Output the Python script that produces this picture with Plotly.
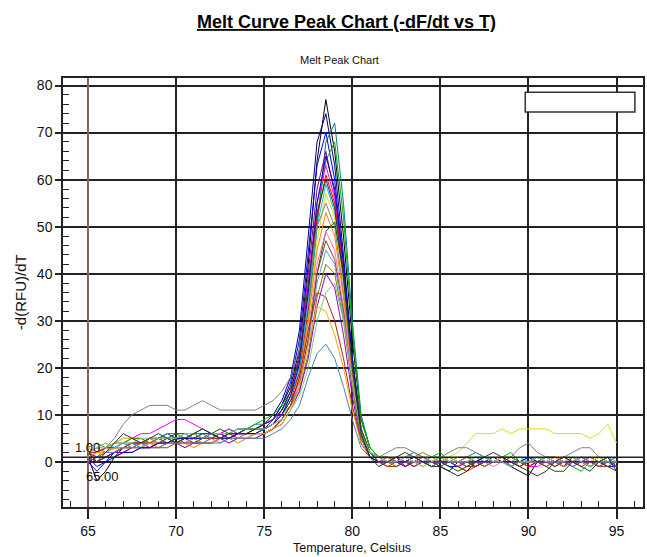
import plotly.graph_objects as go

temperature = [65.0, 65.5, 66.0, 66.5, 67.0, 67.5, 68.0, 68.5, 69.0, 69.5,
               70.0, 70.5, 71.0, 71.5, 72.0, 72.5, 73.0, 73.5, 74.0, 74.5,
               75.0, 75.5, 76.0, 76.5, 77.0, 77.5, 78.0, 78.5, 79.0, 79.5,
               80.0, 80.5, 81.0, 81.5, 82.0, 82.5, 83.0, 83.5, 84.0, 84.5,
               85.0, 85.5, 86.0, 86.5, 87.0, 87.5, 88.0, 88.5, 89.0, 89.5,
               90.0, 90.5, 91.0, 91.5, 92.0, 92.5, 93.0, 93.5, 94.0, 94.5, 95.0]

well_A = [1, -4, -2, 1, 3, 4, 4, 5, 5, 4, 5, 5, 6, 5, 6, 6, 6, 7, 7, 7,
          8, 9, 12, 16, 24, 42, 64, 77, 66, 48, 26, 9, 3,
          1, 0, 1, -1, 0, 1, 0, -1, -2, 0, 1, 0, -1, 0, 1, -1, -2, -3, 0, 1, 0, -1, 1, 0, -1, 0, 1, -1]
well_B = [2, 0, 1, 2, 3, 3, 4, 4, 5, 5, 4, 5, 5, 6, 6, 5, 6, 6, 7, 7,
          8, 10, 13, 18, 28, 48, 68, 74, 63, 44, 22, 7, 2,
          0, 1, 0, 0, 1, 0, -1, 0, 1, 0, 0, -1, 0, 1, 0, 0, -1, 0, 1, 0, -1, 0, 0, 1, 0, -1, 0, 0]
well_C = [1, 2, 3, 3, 4, 3, 4, 5, 4, 5, 5, 5, 6, 6, 5, 6, 7, 6, 7, 8,
          8, 9, 11, 14, 19, 30, 50, 68, 72, 55, 30, 10, 3,
          1, 1, 0, 1, 2, 1, 0, 1, 0, 0, 1, 2, 1, 0, 0, 1, 0, -1, 0, 1, 1, 0, 0, 1, 0, 0, -1, 0]
well_D = [0, -2, 0, 2, 3, 4, 3, 4, 5, 6, 5, 4, 5, 5, 6, 6, 5, 6, 6, 7,
          7, 9, 12, 17, 26, 45, 63, 70, 60, 42, 22, 7, 2,
          0, 0, -1, 0, 0, 1, 0, 0, -1, -1, 0, 0, 1, 0, 0, -1, 0, 0, 1, 0, 0, -1, 0, 0, 1, 0, -1, -1]
well_E = [2, 3, 2, 3, 4, 5, 5, 4, 5, 6, 6, 5, 6, 7, 6, 5, 6, 7, 7, 8,
          9, 10, 12, 15, 20, 32, 52, 64, 68, 52, 28, 9, 3,
          1, 0, 1, 0, -1, 0, 1, 2, 0, -1, -2, 0, 1, 0, 1, 2, 0, -1, 0, 1, 0, 0, -1, -2, 0, 1, 0, -1]
well_F = [1, 0, 1, 2, 2, 3, 4, 3, 4, 4, 5, 5, 4, 5, 5, 6, 5, 6, 6, 7,
          7, 8, 11, 15, 23, 40, 58, 66, 57, 40, 21, 7, 2,
          0, 0, 0, 1, 0, 0, 0, -1, 0, 0, 0, 1, 0, 0, 0, 0, -1, 0, 0, 0, 1, 0, 0, 0, -1, 0, 0, 0]
well_G = [3, 2, 3, 4, 5, 5, 6, 6, 7, 8, 9, 9, 8, 7, 6, 6, 7, 6, 7, 7,
          8, 9, 11, 15, 22, 38, 55, 63, 56, 40, 20, 6, 1,
          0, 0, 1, 0, -1, 0, 0, 1, 0, 0, -1, 0, 0, 0, 1, 0, 0, -1, -1, 0, 0, 1, 0, 0, 0, -1, 0, 0]
well_H = [2, 1, 2, 3, 3, 4, 4, 4, 5, 4, 4, 5, 5, 4, 5, 5, 6, 5, 6, 6,
          7, 8, 10, 13, 19, 33, 52, 61, 55, 40, 22, 7, 2,
          0, -1, 0, 0, 1, 0, -1, 0, 0, -1, -2, -1, 0, 0, 0, 1, 0, -1, 0, 0, 0, 1, 0, -1, 0, 0, 0, -1]
well_I = [2, 3, 4, 3, 4, 4, 3, 5, 4, 4, 5, 5, 5, 4, 5, 5, 5, 6, 6, 6,
          7, 8, 10, 14, 20, 34, 50, 59, 53, 38, 20, 6, 2,
          1, 0, 0, 1, 1, 0, 0, 0, 1, 0, -1, 0, 1, 0, 0, 0, 1, 0, 0, 1, 0, 0, 0, 1, 0, 0, 1, 0]
well_J = [3, 2, 3, 4, 5, 5, 4, 4, 3, 4, 4, 3, 4, 4, 4, 5, 4, 5, 5, 6,
          6, 7, 9, 12, 18, 30, 47, 57, 52, 38, 20, 7, 2,
          1, 1, 0, 1, 1, 0, 1, 1, 1, 2, 4, 6, 6, 6, 7, 6, 7, 7, 7, 7, 6, 6, 6, 6, 5, 6, 8, 4]
well_K = [2, 1, 3, 5, 8, 10, 11, 12, 12, 12, 11, 11, 12, 13, 12, 11, 11, 11, 11, 11,
          12, 13, 15, 18, 24, 36, 50, 55, 50, 36, 19, 6, 2,
          1, 2, 3, 3, 2, 1, 0, 1, 2, 3, 3, 2, 1, 0, 0, 1, 3, 4, 2, 1, 0, 1, 2, 3, 3, 1, 0, -1]
well_L = [1, 2, 2, 3, 3, 3, 4, 4, 3, 4, 4, 4, 3, 4, 4, 5, 5, 4, 5, 5,
          6, 7, 9, 12, 18, 30, 45, 53, 48, 35, 18, 5, 1,
          0, 0, -1, 0, 0, -1, 0, 0, 0, -1, 0, 0, -1, 0, 0, 0, -1, 0, 0, 0, 0, -1, 0, 0, -1, 0, 0, 0]
well_M = [2, 1, 1, 2, 3, 4, 4, 5, 5, 5, 6, 6, 5, 6, 6, 7, 6, 6, 7, 7,
          7, 8, 10, 13, 17, 26, 40, 49, 51, 40, 22, 7, 2,
          0, 1, 0, -1, 0, 1, 0, 0, -1, -2, -1, 0, 1, 0, 0, -1, 0, 1, 0, -1, -2, -2, 0, 1, 0, 0, -1, -2]
well_N = [2, 3, 2, 3, 3, 4, 4, 5, 4, 5, 5, 4, 5, 5, 5, 4, 5, 5, 6, 6,
          6, 7, 9, 12, 17, 28, 42, 49, 45, 33, 17, 5, 1,
          0, 1, 0, 0, 0, 1, 0, 0, 0, 0, 1, 0, 0, -1, 0, 0, 0, 0, 1, 0, 0, 0, 0, 1, 0, 0, 0, 0]
well_O = [1, 0, 1, 1, 2, 2, 3, 3, 3, 3, 4, 4, 4, 4, 4, 5, 5, 5, 5, 6,
          6, 7, 9, 12, 16, 26, 40, 47, 43, 32, 16, 5, 1,
          0, -1, -1, 0, 0, 0, -1, 0, 0, 0, -1, -1, 0, 0, 0, 0, -1, 0, 0, 0, -1, 0, 0, 0, 0, -1, -1, 0]
well_P = [2, 2, 3, 3, 4, 5, 4, 4, 5, 5, 5, 6, 5, 5, 6, 5, 6, 6, 6, 7,
          7, 8, 10, 12, 16, 25, 38, 45, 42, 31, 16, 5, 1,
          1, 0, 0, 1, 0, 0, 1, 1, 0, 0, 0, 1, 0, 0, 1, 0, 0, 0, 0, 1, 0, 0, 1, 0, 0, 0, 0, 1]
well_Q = [3, 4, 3, 4, 4, 5, 5, 4, 5, 4, 5, 5, 6, 5, 5, 6, 6, 6, 6, 7,
          7, 8, 9, 12, 15, 23, 35, 42, 40, 30, 16, 5, 2,
          1, 1, 0, 0, 1, 2, 1, 0, 0, 1, 1, 0, -1, 0, 1, 1, 0, 0, 0, 1, 1, 0, 0, 0, 1, 0, 0, 1]
well_R = [0, 1, 1, 2, 2, 3, 3, 3, 4, 4, 4, 3, 4, 4, 4, 5, 4, 5, 5, 5,
          6, 7, 8, 11, 15, 22, 33, 40, 37, 27, 14, 4, 1,
          0, 0, 0, -1, 0, 0, 0, 0, 0, -1, 0, 0, 0, 0, 0, -1, 0, 0, 0, 0, 0, 0, -1, 0, 0, 0, 0, 0]
well_S = [2, 2, 3, 3, 3, 4, 4, 4, 4, 5, 5, 5, 4, 5, 5, 5, 5, 6, 6, 6,
          6, 7, 9, 12, 18, 28, 36, 35, 30, 22, 12, 4, 1,
          0, 0, 0, 0, -1, 0, 0, 0, 0, 0, 0, -1, 0, 0, 0, 0, 0, 0, 0, -1, 0, 0, 0, 0, 0, 0, 0, 0]
well_T = [1, 2, 2, 3, 3, 3, 3, 4, 4, 4, 4, 4, 5, 4, 4, 5, 5, 5, 5, 6,
          6, 7, 8, 11, 16, 25, 33, 32, 27, 20, 11, 4, 1,
          0, 0, 0, 1, 0, 0, 0, 0, 1, 0, 0, 0, 0, 0, 1, 0, 0, 0, 0, 0, 1, 0, 0, 0, 0, 1, 0, 0]
well_U = [1, 1, 2, 2, 3, 3, 3, 3, 3, 4, 4, 4, 4, 4, 4, 4, 5, 5, 5, 5,
          5, 6, 7, 9, 12, 18, 23, 25, 22, 16, 9, 3, 1,
          0, 0, 0, 0, 0, 0, -1, 0, 0, 0, 0, 0, 0, 0, 0, -1, 0, 0, 0, 0, 0, 0, 0, 0, -1, 0, 0, 0]
well_V = [1, -1, 0, 1, 2, 2, 3, 3, 4, 4, 5, 5, 5, 5, 6, 5, 5, 6, 6, 6,
          7, 8, 10, 14, 21, 36, 55, 65, 58, 42, 22, 6, 1,
          0, 0, 0, 0, 1, 0, 0, 0, 0, 0, 0, 0, 0, 0, 0, 0, 0, 1, 0, 0, 0, 0, 0, 0, 0, 0, 0, 0]
well_W = [2, 3, 3, 4, 4, 4, 5, 5, 5, 5, 5, 6, 6, 5, 6, 6, 6, 7, 7, 7,
          7, 8, 9, 11, 14, 20, 30, 36, 38, 30, 17, 6, 2,
          1, 0, 0, 1, 0, -1, 0, 1, 0, 0, 0, 1, 1, 0, 0, -1, 0, 0, 1, 0, 0, 0, 1, 0, -1, 0, 0, 0]
well_X = [2, 0, 2, 4, 6, 5, 4, 5, 6, 5, 4, 5, 6, 7, 6, 5, 6, 6, 6, 7,
          8, 9, 11, 15, 22, 37, 53, 60, 54, 39, 20, 6, 1,
          -1, 0, 1, 2, 1, 0, -1, -1, -2, -3, -2, 0, 1, 2, 1, 0, -1, -2, -3, -2, 0, 1, 0, -1, -2, 0, 1, -2]

wells = [well_A, well_B, well_C, well_D, well_E, well_F, well_G, well_H,
         well_I, well_J, well_K, well_L, well_M, well_N, well_O, well_P,
         well_Q, well_R, well_S, well_T, well_U, well_V, well_W, well_X]
well_names = ["A1", "A2", "A3", "A4", "A5", "A6", "A7", "A8", "B1", "B2", "B3", "B4",
              "B5", "B6", "B7", "B8", "C1", "C2", "C3", "C4", "C5", "C6", "C7", "C8"]
well_colors = ["#000000", "#000080", "#008080", "#0000ff", "#00b000", "#800080",
               "#ff00ff", "#ff0000", "#00c0ff", "#e0e000", "#808080", "#ff8000",
               "#006400", "#ff69b4", "#8b4513", "#6495ed", "#808000", "#9400d3",
               "#b22222", "#ffa500", "#4682b4", "#0000cd", "#7ccd7c", "#303030"]

for w in wells:
    assert len(w) == len(temperature), len(w)

title_text = "Melt Curve Peak Chart (-dF/dt vs T)"
subtitle_text = "Melt Peak Chart"
x_title = "Temperature, Celsius"
y_title = "-d(RFU)/dT"
threshold_value = 1.0
start_temp = 65.0

REG = "Liberation Sans, Arial, sans-serif"

fig = go.Figure()
for name, vals, col in zip(well_names, wells, well_colors):
    fig.add_trace(go.Scatter(x=temperature, y=vals, mode="lines", name=name,
                             line=dict(color=col, width=1)))

axis_common = dict(showline=True, linecolor="#222222", linewidth=1.5, mirror=True,
                   showgrid=True, gridcolor="#222222", gridwidth=1.5,
                   tickfont=dict(family=REG, size=14, color="#111111"),
                   tickcolor="#222222", tickwidth=1.5, ticks="outside")

fig.update_xaxes(range=[63.58, 96.5], tick0=65, dtick=5, ticklen=10,
                 minor=dict(ticks="inside", dtick=1, tick0=65, ticklen=6,
                            tickcolor="#222222", tickwidth=1.2, showgrid=False),
                 zeroline=False, **axis_common)
fig.update_yaxes(range=[-9.6, 81.6], tick0=0, dtick=10, ticklen=6,
                 minor=dict(ticks="inside", dtick=2, tick0=0, ticklen=6,
                            tickcolor="#222222", tickwidth=1.2, showgrid=False),
                 zeroline=True, zerolinecolor="#222222", zerolinewidth=1.5,
                 **axis_common)

fig.add_shape(type="line", xref="paper", x0=0, x1=1, yref="y",
              y0=threshold_value, y1=threshold_value,
              line=dict(color="#222222", width=1.5))
fig.add_shape(type="line", xref="x", x0=start_temp, x1=start_temp, yref="paper",
              y0=0, y1=1, line=dict(color="#c8907c", width=1.2))
fig.add_shape(type="rect", xref="paper", yref="paper", x0=0.797, x1=0.986,
              y0=0.921, y1=0.967, fillcolor="white",
              line=dict(color="#333333", width=1.5), layer="above")

ann = []
ann.append(dict(text="<b><u>" + title_text + "</u></b>", xref="paper", yref="paper",
                x=0.488, y=1.1305, showarrow=False, xanchor="center", yanchor="middle",
                font=dict(family=REG, size=18, color="#000000")))
ann.append(dict(text=subtitle_text, xref="paper", yref="paper", x=0.476, y=1.042,
                showarrow=False, xanchor="center", yanchor="middle",
                font=dict(family=REG, size=11, color="#111111")))
ann.append(dict(text=x_title, xref="paper", yref="paper", x=0.498, y=-0.0956,
                showarrow=False, xanchor="center", yanchor="middle",
                font=dict(family=REG, size=12.5, color="#111111")))
ann.append(dict(text=y_title, xref="paper", yref="paper", x=-0.073, y=0.5,
                showarrow=False, xanchor="center", yanchor="middle", textangle=-90,
                font=dict(family=REG, size=15, color="#111111")))
ann.append(dict(text="%.2f" % threshold_value, xref="x", yref="y", x=64.97, y=3.0,
                showarrow=False, xanchor="center", yanchor="middle",
                font=dict(family=REG, size=13, color="#111111")))
ann.append(dict(text="%.2f" % start_temp, xref="x", yref="y", x=65.8, y=-3.2,
                showarrow=False, xanchor="center", yanchor="middle",
                font=dict(family=REG, size=13, color="#111111")))

fig.update_layout(width=647, height=557, margin=dict(l=63, r=2, t=78, b=50),
                  paper_bgcolor="white", plot_bgcolor="white", showlegend=False,
                  annotations=ann)

fig.write_html("out.html", config={"displayModeBar": False},
               post_script="document.body.style.margin='0px';document.body.style.overflow='hidden';")
